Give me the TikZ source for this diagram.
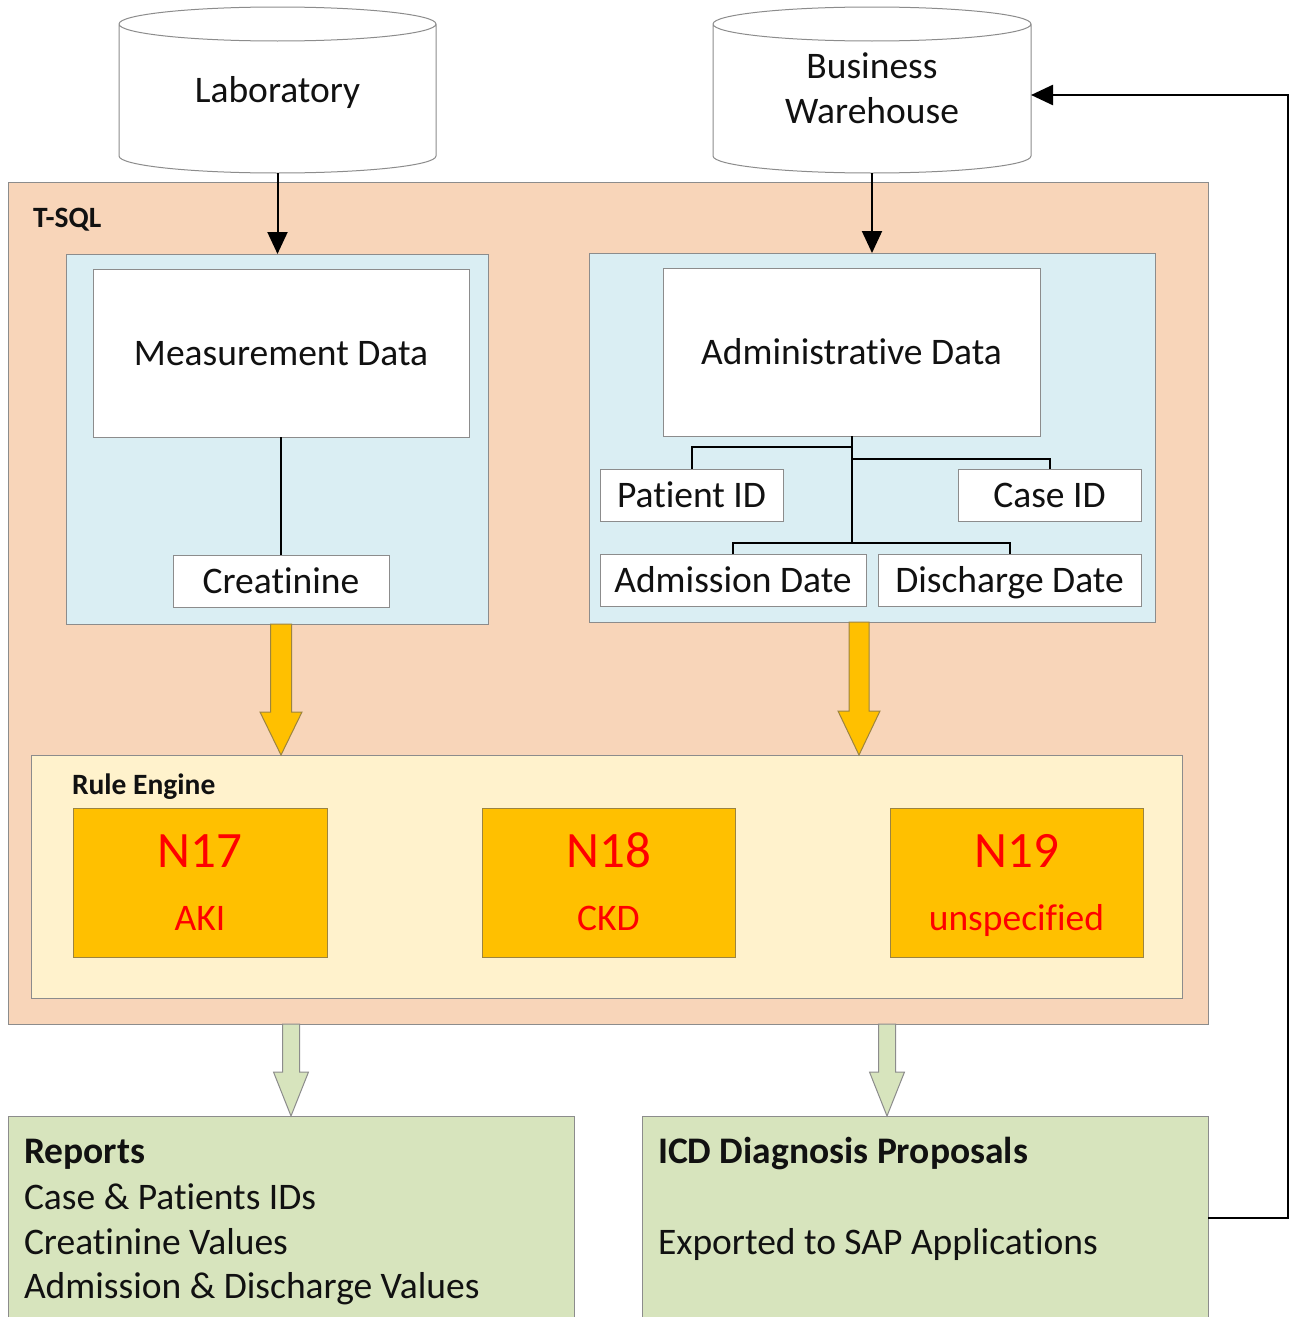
\documentclass[tikz,border=0pt]{standalone}
\usepackage{fontspec}
\setmainfont{Carlito}[Ligatures={NoCommon}]
\usetikzlibrary{arrows.meta,calc}
\definecolor{peach}{HTML}{F8D5B9}
\definecolor{lblue}{HTML}{DAEEF3}
\definecolor{cream}{HTML}{FFF2CC}
\definecolor{gold}{HTML}{FFC000}
\definecolor{lgreen}{HTML}{D7E4BD}
\definecolor{bgray}{HTML}{8C8C8C}
\definecolor{goldline}{HTML}{9C8440}
\definecolor{txt}{HTML}{111111}
\newcommand\drawcyl[1]{%
  \path[cylstyle] let \p1=(#1.north west), \p2=(#1.south east), \n1={(\x2-\x1)/2} in
    (\x1,\y1-17pt) -- (\x1,\y2+17pt) arc[start angle=180,end angle=360,x radius=\n1,y radius=17pt]
    -- (\x2,\y1-17pt) arc[start angle=0,end angle=180,x radius=\n1,y radius=17pt] -- cycle
    (\x1,\y1-17pt) arc[start angle=180,end angle=360,x radius=\n1,y radius=17pt];}
\newcommand\blockarrow[6]{%
  \path[#6] let \p1=(#1), \p2=(#2) in
    (\x1-#3,\y1) -- (\x1-#3,\y2+#5) -- (\x1-#4,\y2+#5) -- (\x1,\y2)
    -- (\x1+#4,\y2+#5) -- (\x1+#3,\y2+#5) -- (\x1+#3,\y1) -- cycle;}
\begin{document}
\begin{tikzpicture}[x=1pt,y=-1pt,
  every node/.style={inner sep=0pt,outer sep=0pt,text=txt},
  cylstyle/.style={draw=bgray,fill=white,line width=1pt},
  frame/.style={draw=bgray,line width=1pt},
  bigfont/.style={font=\fontsize{37.5}{45}\selectfont},
  wbox/.style={frame,fill=white,bigfont,text height=30pt,text depth=6pt},
  codebox/.style={draw=goldline,line width=1pt,fill=gold,minimum width=253pt,minimum height=149pt},
  lbl/.style={anchor=base west,font=\bfseries\fontsize{29.5}{35}\selectfont},
  body/.style={anchor=base west,bigfont},
  bodyb/.style={anchor=base west,font=\bfseries\fontsize{37.5}{45}\selectfont},
  code/.style={anchor=base,text=red,font=\fontsize{51}{60}\selectfont},
  codesub/.style={anchor=base,text=red,bigfont},
  blk/.style={line width=2pt,-{Triangle[length=22pt,width=20pt]}},
  tree/.style={line width=2pt},
  yarrow/.style={fill=gold,draw=goldline,line width=1pt},
  garrow/.style={fill=lgreen,draw=bgray,line width=1pt}]
\useasboundingbox (0,0) rectangle (1290,1317);
\clip (0,0) rectangle (1290,1317);
\fill[white] (0,0) rectangle (1290,1317);

% sources
\node[minimum width=317pt,minimum height=166pt] (lab) at (277.5,90) {};
\node[minimum width=318pt,minimum height=166pt] (bw) at (872,90) {};
\drawcyl{lab}
\drawcyl{bw}
\node[bigfont,anchor=base] (labt) at (277.5,102) {Laboratory};
\node[bigfont,anchor=base] (bwt1) at (872,78) {Business};
\node[bigfont,anchor=base] (bwt2) at (872,123) {Warehouse};

% T-SQL container
\node[frame,fill=peach,minimum width=1200pt,minimum height=842pt] (tsql) at (608,603) {};
\node[lbl] (tsqll) at (33,227) {T-SQL};

% measurement side
\node[frame,fill=lblue,minimum width=422pt,minimum height=370pt] (mblue) at (277,439) {};
\node[wbox,minimum width=376pt,minimum height=168pt] (meas) at (281,353) {Measurement Data};
\node[wbox,minimum width=216pt,minimum height=52pt] (creat) at (281,581) {Creatinine};
\draw[tree] (meas.south) -- (creat.north);

% administrative side
\node[frame,fill=lblue,minimum width=566pt,minimum height=369pt] (ablue) at (872,437.5) {};
\node[wbox,minimum width=377pt,minimum height=168pt] (adm) at (851.5,352) {Administrative Data};
\node[wbox,minimum width=183pt,minimum height=52pt] (pid) at (691.5,495) {Patient ID};
\node[wbox,minimum width=183pt,minimum height=52pt] (cid) at (1049.5,495) {Case ID};
\node[wbox,minimum width=266pt,minimum height=52pt] (addate) at (733,580) {Admission Date};
\node[wbox,minimum width=263pt,minimum height=52pt] (disdate) at (1009.5,580) {Discharge Date};
\coordinate (j1) at (851.5,447);
\coordinate (j2) at (851.5,459);
\coordinate (j3) at (851.5,543);
\draw[tree] (adm.south) -- (j3);
\draw[tree] (pid.north) -- (pid.north |- j1) -- (j1);
\draw[tree] (cid.north) -- (cid.north |- j2) -- (j2);
\draw[tree] (addate.north) -- (addate.north |- j3) -- (disdate.north |- j3) -- (disdate.north);

% rule engine
\node[frame,fill=cream,minimum width=1151pt,minimum height=243pt] (rule) at (606.5,876.5) {};
\node[lbl] (rulel) at (72,794) {Rule Engine};
\node[codebox,minimum width=254pt] (n17) at (200,882.5) {};
\node[codebox] (n18) at (608.5,882.5) {};
\node[codebox] (n19) at (1016.5,882.5) {};
\node[code] (n17a) at (200,867) {N17};
\node[codesub] (n17b) at (200,930) {AKI};
\node[code] (n18a) at (608.5,867) {N18};
\node[codesub] (n18b) at (608.5,930) {CKD};
\node[code] (n19a) at (1016.5,867) {N19};
\node[codesub] (n19b) at (1016.5,930) {unspecified};

% outputs
\node[frame,fill=lgreen,minimum width=566pt,minimum height=204pt] (reports) at (291,1218) {};
\node[frame,fill=lgreen,minimum width=566pt,minimum height=204pt] (icd) at (925,1218) {};
\node[bodyb] (r0) at (24,1163) {Reports};
\node[body] (r1) at (24,1209) {Case \& Patients IDs};
\node[body] (r2) at (24,1254) {Creatinine Values};
\node[body] (r3) at (24,1298) {Admission \& Discharge Values};
\node[bodyb] (i0) at (658,1163) {ICD Diagnosis Proposals};
\node[body] (i1) at (658,1254) {Exported to SAP Applications};

% connectors
\draw[blk] (lab.south) -- (lab.south |- mblue.north);
\draw[blk] (bw.south) -- (bw.south |- ablue.north);
\coordinate (ain) at ([xshift=-13pt]ablue.south);
\coordinate (icdin) at ([xshift=-38pt]icd.north);
\blockarrow{mblue.south -| creat.south}{rule.north}{10.5pt}{21pt}{43pt}{yarrow}
\blockarrow{ain}{rule.north}{10pt}{21pt}{44pt}{yarrow}
\blockarrow{reports.north |- tsql.south}{reports.north}{8.5pt}{17.5pt}{44pt}{garrow}
\blockarrow{icdin |- tsql.south}{icd.north}{8.5pt}{17.5pt}{44pt}{garrow}
\draw[line width=2.5pt,-{Triangle[length=22pt,width=20pt]}] (icd.east) -- ++(80,0) |- ([yshift=-5pt]bw.east);
\end{tikzpicture}
\end{document}
